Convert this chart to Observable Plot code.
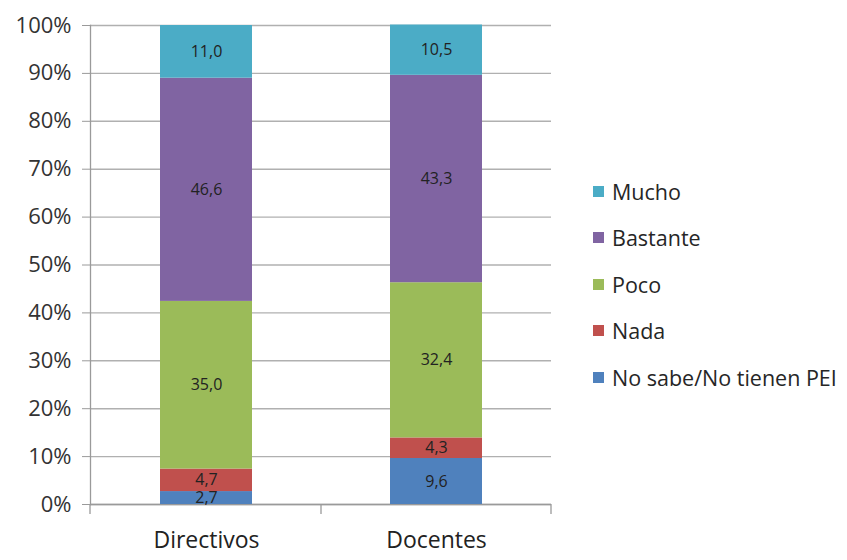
<!DOCTYPE html>
<html>
<head>
<meta charset="utf-8">
<script src="https://cdn.jsdelivr.net/npm/d3@7"></script>
<script src="https://cdn.jsdelivr.net/npm/@observablehq/plot@0.6"></script>
<style>
  html, body { margin: 0; padding: 0; background: #fff; }
  #wrap { position: relative; width: 847px; height: 560px; font-family: "Open Sans", sans-serif; }
  #legend { position: absolute; left: 593px; top: 168px; }
  .item { display: flex; align-items: center; height: 46.5px; font-size: 21.5px; color: #262626; white-space: nowrap; }
  .sw { width: 11px; height: 11px; margin-right: 8px; }
</style>
</head>
<body>
<div id="wrap"></div>
<script>
const categories = ["Directivos", "Docentes"];
const series = ["No sabe/No tienen PEI", "Nada", "Poco", "Bastante", "Mucho"]; // bottom to top
const colors = ["#4f81bd", "#c0504d", "#9bbb59", "#8064a2", "#4bacc6"];
const valuesDirectivos = [2.7, 4.7, 35.0, 46.6, 11.0];
const valuesDocentes = [9.6, 4.3, 32.4, 43.3, 10.5];
const yTicks = [0, 10, 20, 30, 40, 50, 60, 70, 80, 90, 100];

const data = [];
series.forEach((s, i) => {
  data.push({cat: categories[0], series: s, value: valuesDirectivos[i]});
  data.push({cat: categories[1], series: s, value: valuesDocentes[i]});
});

const fmt = v => v.toFixed(1).replace(".", ",");

// Excel-style category tick marks at band boundaries
function categoryTicks(index, scales, values, dims) {
  const svg = d3.create("svg:g");
  const x = scales.x;
  const bw = x.bandwidth ? x.bandwidth() : 0;
  const centers = categories.map(c => x(c) + bw / 2);
  const left = dims.marginLeft, right = dims.width - dims.marginRight;
  const bounds = [left];
  for (let i = 0; i < centers.length - 1; i++) bounds.push((centers[i] + centers[i + 1]) / 2);
  bounds.push(right);
  const y0 = scales.y(0);
  bounds.forEach(b => {
    svg.append("line").attr("x1", b).attr("x2", b).attr("y1", y0).attr("y2", y0 + 10)
      .attr("stroke", "#9a9a9a").attr("stroke-width", 1.3);
  });
  return svg.node();
}

const chart = Plot.plot({
  width: 847,
  height: 560,
  marginLeft: 90,
  marginRight: 296,
  marginTop: 25,
  marginBottom: 56,
  style: {fontFamily: "Open Sans, sans-serif", background: "#fff"},
  x: {domain: categories, paddingInner: 0.6, paddingOuter: 0.3, label: null},
  y: {domain: [0, 100], ticks: yTicks, label: null},
  color: {domain: series, range: colors},
  marks: [
    Plot.gridY(yTicks, {stroke: "#b0b0b0", strokeOpacity: 1, strokeWidth: 1.4}),
    Plot.axisY({ticks: yTicks, tickFormat: d => d + "%", tickSize: 8, tickPadding: 11, stroke: "#9a9a9a", fontSize: 22, fill: "#333", label: null}),
    Plot.axisX({tickSize: 0, tickPadding: 27, fontSize: 23, fill: "#222", label: null}),
    Plot.frame({anchor: "left", stroke: "#9a9a9a", strokeWidth: 1.3}),
    Plot.ruleY([0], {stroke: "#9a9a9a", strokeWidth: 1.4}),
    categoryTicks,
    Plot.barY(data, Plot.stackY({x: "cat", y: "value", z: "series", order: series, fill: "series"})),
    Plot.text(data, Plot.stackY({x: "cat", y: "value", z: "series", order: series, text: d => fmt(d.value), fill: "#222", fontSize: 16}))
  ]
});

const wrap = document.getElementById("wrap");
wrap.appendChild(chart);

const legend = document.createElement("div");
legend.id = "legend";
series.slice().reverse().forEach(s => {
  const item = document.createElement("div");
  item.className = "item";
  const sw = document.createElement("span");
  sw.className = "sw";
  sw.style.background = colors[series.indexOf(s)];
  const t = document.createElement("span");
  t.textContent = s;
  item.appendChild(sw);
  item.appendChild(t);
  legend.appendChild(item);
});
wrap.appendChild(legend);
</script>
</body>
</html>
